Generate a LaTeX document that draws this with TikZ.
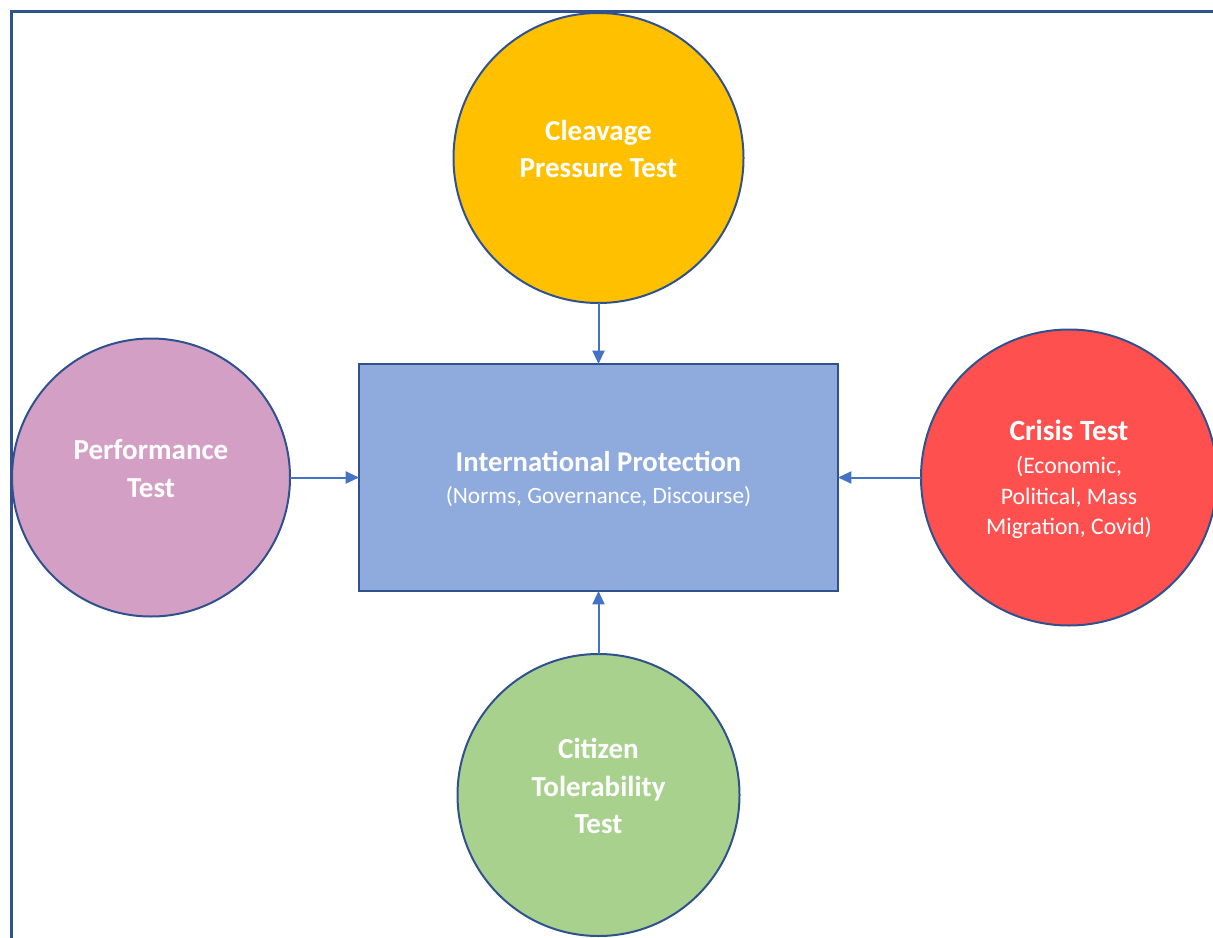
\documentclass[tikz,border=0pt]{standalone}
\usepackage{fontspec}
\setmainfont{Carlito}
\usetikzlibrary{arrows.meta, positioning}

\definecolor{edgeblue}{HTML}{2F528F}
\definecolor{arrowblue}{HTML}{4472C4}
\definecolor{hubblue}{HTML}{8FAADC}
\definecolor{cleavagegold}{HTML}{FFC000}
\definecolor{performpink}{HTML}{D49FC5}
\definecolor{crisisred}{HTML}{FF5050}
\definecolor{citizengreen}{HTML}{A9D18E}

\begin{document}
\begin{tikzpicture}[
						x=0.75pt, y=-0.75pt,
						test/.style = {draw=edgeblue, line width=1.5pt, circle, inner sep=0pt, outer sep=0pt, text=white, align=center, font=\bfseries\fontsize{21.75}{28}\selectfont},
						lifted/.style = {text depth=13.5pt},
						hub/.style = {draw=edgeblue, line width=1.5pt, rectangle, fill=hubblue, minimum width=359.25pt, minimum height=170.25pt, outer sep=0pt, text=white, align=center, text depth=-1.5pt, font=\fontsize{17.5}{24}\selectfont},
						feed/.style = {draw=arrowblue, line width=1.5pt, -{Triangle[length=10pt,width=9pt]}},
						frame/.style = {draw=edgeblue, line width=2.25pt},
					]

\useasboundingbox (0,0) rectangle (1213,938);
\draw[frame] (1225,12) -- (11,12) -- (11,950);

\node[hub] (hub) at (598.5,477.5) {{\bfseries\fontsize{21.5}{24}\selectfont International Protection}\\(Norms, Governance, Discourse)};
\node[test, lifted, fill=cleavagegold, minimum size=217.5pt] (cleavage) [above=45.75pt of hub] {Cleavage\\Pressure Test};
\node[test, lifted, fill=performpink, minimum size=208.5pt] (perform) [left=51.75pt of hub] {Performance\\Test};
\node[test, fill=crisisred, minimum size=222pt, text depth=0pt, font=\fontsize{17.75}{22.9}\selectfont] (crisis) [right=62.25pt of hub] {{\bfseries\fontsize{22}{26}\selectfont Crisis Test}\\[2pt](Economic,\\Political, Mass\\Migration, Covid)};
\node[test, lifted, fill=citizengreen, minimum size=211.5pt] (citizen) [below=47.25pt of hub] {Citizen\\Tolerability\\Test};

\draw[feed] (cleavage) -- (hub);
\draw[feed] (perform) -- (hub);
\draw[feed] (crisis) -- (hub);
\draw[feed] (citizen) -- (hub);

\end{tikzpicture}
\end{document}
